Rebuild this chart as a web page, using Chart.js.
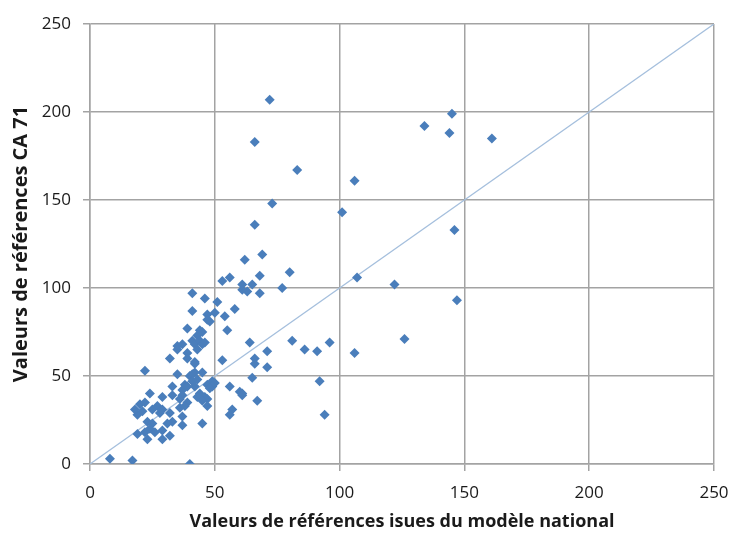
<!DOCTYPE html>
<html>
<head>
<meta charset="utf-8">
<script src="https://cdn.jsdelivr.net/npm/chart.js@4.4.0/dist/chart.umd.min.js"></script>
<style>
  html, body { margin: 0; padding: 0; background: #fff; }
  #wrap { width: 730px; height: 533px; }
</style>
</head>
<body>
<div id="wrap"><canvas id="scatterChart" width="730" height="533"></canvas></div>
<script>
// x = valeur du modèle national, y = valeur CA 71
const nationalVals = [
  72, 66, 83, 106, 101, 73, 66, 69, 62,
  134, 145, 144, 161, 146, 122, 107, 147, 126, 106,
  96, 91, 86, 81, 92, 94,
  80, 77, 68, 68, 63, 61, 61, 65,
  53, 56, 41, 46, 51, 58, 41,
  47, 47, 48, 50, 54, 39, 44, 43, 45, 55,
  41, 42, 44, 45, 39, 64, 53, 42, 66, 66, 71, 71,
  35, 35, 37, 46, 43, 32, 39, 42,
  22, 35, 40, 42, 45, 41,
  33, 38, 41, 43, 42, 47, 49, 50, 49, 48, 44, 46, 47,
  56, 60, 61, 61, 65, 67, 57, 56,
  24, 29, 33, 37, 39, 37, 36, 43, 45,
  20, 22, 21, 19, 18, 25, 27, 28, 29, 32, 33, 31,
  23, 25, 24, 22, 26, 29, 19, 23, 29, 32,
  37, 37, 39, 36, 38, 47, 45,
  8, 17, 40
];
const ca71Vals = [
  207, 183, 167, 161, 143, 148, 136, 119, 116,
  192, 199, 188, 185, 133, 102, 106, 93, 71, 63,
  69, 64, 65, 70, 47, 28,
  109, 100, 107, 97, 98, 99, 102, 102,
  104, 106, 97, 94, 92, 88, 87,
  85, 82, 81, 86, 84, 77, 76, 73, 75, 76,
  70, 68, 70, 68, 63, 69, 59, 58, 60, 57, 64, 55,
  67, 65, 68, 69, 65, 60, 60, 57,
  53, 51, 50, 52, 52, 51,
  44, 45, 47, 48, 44, 45, 47, 46, 44, 43, 40, 38, 37,
  44, 41, 40, 39, 49, 36, 31, 28,
  40, 38, 39, 42, 44, 39, 37, 38, 36,
  34, 35, 30, 28, 31, 31, 33, 29, 31, 29, 24, 23,
  24, 23, 20, 18, 18, 19, 17, 14, 14, 16,
  22, 27, 35, 32, 33, 33, 23,
  3, 2, 0
];
const tickVals = [0, 50, 100, 150, 200, 250];
const diagLine = [0, 250];

const points = nationalVals.map((v, i) => ({ x: v, y: ca71Vals[i] }));
const diag = diagLine.map(v => ({ x: v, y: v }));

const fontFam = "'Open Sans', 'Noto Sans', sans-serif";
const gridCol = '#a3a3a3';

const ctx = document.getElementById('scatterChart').getContext('2d');
const chart = new Chart(ctx, {
  type: 'scatter',
  data: {
    datasets: [
      {
        label: 'CA 71',
        data: points,
        pointStyle: 'rectRot',
        pointRadius: 5,
        pointHoverRadius: 5,
        backgroundColor: '#4a7ebb',
        borderColor: '#4a7ebb',
        borderWidth: 0,
        order: 1
      },
      {
        label: 'y = x',
        data: diag,
        showLine: true,
        pointRadius: 0,
        borderColor: '#a5bfdd',
        borderWidth: 1.3,
        order: 2
      }
    ]
  },
  options: {
    responsive: false,
    animation: false,
    layout: { padding: { left: 9, top: 24, right: 16, bottom: 0 } },
    plugins: {
      legend: { display: false },
      tooltip: { enabled: false }
    },
    scales: {
      x: {
        type: 'linear',
        min: 0,
        max: 250,
        afterBuildTicks: (s) => { s.ticks = tickVals.map(v => ({ value: v })); },
        afterFit: (s) => { s.height = 69; s.paddingLeft = 0; s.paddingRight = 0; },
        grid: { color: gridCol, lineWidth: 1.5, tickLength: 7 },
        border: { color: gridCol, width: 1.5 },
        ticks: { color: '#1a1a1a', font: { family: fontFam, size: 17 }, padding: 12 },
        title: {
          display: true,
          text: 'Valeurs de références isues du modèle national',
          color: '#1a1a1a',
          font: { family: fontFam, size: 18, weight: 'bold' },
          padding: { top: 2, bottom: 0 }
        }
      },
      y: {
        type: 'linear',
        min: 0,
        max: 250,
        afterBuildTicks: (s) => { s.ticks = tickVals.map(v => ({ value: v })); },
        afterFit: (s) => { s.width = 81; s.paddingTop = 0; s.paddingBottom = 0; },
        grid: { color: gridCol, lineWidth: 1.5, tickLength: 7 },
        border: { color: gridCol, width: 1.5 },
        ticks: { color: '#1a1a1a', font: { family: fontFam, size: 17 }, padding: 12 },
        title: {
          display: true,
          text: 'Valeurs de références CA 71',
          color: '#1a1a1a',
          font: { family: fontFam, size: 20, weight: 'bold' },
          padding: { top: 0, bottom: 4 }
        }
      }
    }
  }
});
</script>
</body>
</html>
